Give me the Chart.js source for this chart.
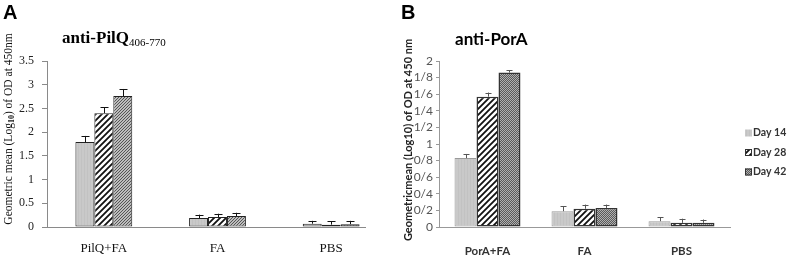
<!DOCTYPE html>
<html>
<head>
<meta charset="utf-8">
<script src="https://cdn.jsdelivr.net/npm/chart.js@4.4.0/dist/chart.umd.min.js"></script>
<style>
  body { margin: 0; background: #fff; overflow: hidden; }
  #wrapA { position: absolute; left: 0; top: 0; width: 395px; height: 257px; }
  #wrapB { position: absolute; left: 395px; top: 0; width: 392px; height: 257px; }
</style>
</head>
<body>
<div id="wrapA"><canvas id="chartA" width="395" height="257"></canvas></div>
<div id="wrapB"><canvas id="chartB" width="392" height="257"></canvas></div>
<script>
// Panel A data (anti-PilQ)
const groupsA = ['PilQ+FA', 'FA', 'PBS'];
const day14A = [1.79, 0.19, 0.07];
const day28A = [2.40, 0.21, 0.05];
const day42A = [2.76, 0.23, 0.06];
const err14A = [0.13, 0.07, 0.06];
const err28A = [0.12, 0.07, 0.07];
const err42A = [0.15, 0.07, 0.07];

// Panel B data (anti-PorA)
const groupsB = ['PorA+FA', 'FA', 'PBS'];
const day14B = [0.83, 0.19, 0.07];
const day28B = [1.57, 0.22, 0.05];
const day42B = [1.86, 0.23, 0.05];
const err14B = [0.05, 0.06, 0.05];
const err28B = [0.05, 0.05, 0.05];
const err42B = [0.03, 0.04, 0.04];

const seriesNames = ['Day 14', 'Day 28', 'Day 42'];

const SERIF = '"Liberation Serif", "Times New Roman", serif';
const SANS = 'Lato, "Liberation Sans", sans-serif';

// small pattern tiles
function makePattern(kind) {
    const c = document.createElement('canvas');
    const x = c.getContext('2d');
    if (kind === 'grey') {
        c.width = 3; c.height = 3;
        x.fillStyle = '#c9c9c9'; x.fillRect(0, 0, 3, 3);
        x.fillStyle = '#c2c2c2'; x.fillRect(0, 0, 1, 3);
    } else if (kind === 'stripe') {
        c.width = 6; c.height = 6;
        x.fillStyle = '#fff'; x.fillRect(0, 0, 6, 6);
        x.strokeStyle = '#111'; x.lineWidth = 1.8;
        x.beginPath();
        x.moveTo(-1, 7); x.lineTo(7, -1);
        x.moveTo(-4, 4); x.lineTo(4, -4);
        x.moveTo(2, 10); x.lineTo(10, 2);
        x.stroke();
    } else if (kind === 'fine') {
        c.width = 3; c.height = 3;
        x.fillStyle = '#bdbdbd'; x.fillRect(0, 0, 3, 3);
        x.fillStyle = '#555';
        x.fillRect(2, 0, 1, 1); x.fillRect(1, 1, 1, 1); x.fillRect(0, 2, 1, 1);
    } else if (kind === 'check') {
        c.width = 2; c.height = 2;
        x.fillStyle = '#b0b0b0'; x.fillRect(0, 0, 2, 2);
        x.fillStyle = '#5a5a5a'; x.fillRect(0, 0, 1, 1); x.fillRect(1, 1, 1, 1);
    }
    return x.createPattern(c, 'repeat');
}

// error bars drawn from the data via the scales
const errorBars = {
    id: 'errorBars',
    afterDatasetsDraw(chart, args, opts) {
        const ctx = chart.ctx;
        const ys = chart.scales.y;
        ctx.save();
        ctx.strokeStyle = opts.color;
        ctx.lineWidth = 1;
        chart.data.datasets.forEach((ds, i) => {
            const meta = chart.getDatasetMeta(i);
            meta.data.forEach((bar, j) => {
                const top = ys.getPixelForValue(ds.data[j] + ds.errors[j]);
                const x = Math.round(bar.x) + 0.5;
                ctx.beginPath();
                ctx.moveTo(x, bar.y);
                ctx.lineTo(x, top);
                ctx.moveTo(x - opts.cap, Math.round(top) + 0.5);
                ctx.lineTo(x + opts.cap, Math.round(top) + 0.5);
                ctx.stroke();
            });
        });
        ctx.restore();
    }
};

// texts: panel letter, title, rotated y title
const panelText = {
    id: 'panelText',
    afterDraw(chart, args, o) {
        const ctx = chart.ctx;
        ctx.save();
        ctx.fillStyle = '#000';
        ctx.font = 'bold 20px "Liberation Sans", Arial, sans-serif';
        ctx.textBaseline = 'alphabetic';
        ctx.fillText(o.letter, o.letterX, 19);

        // title with optional subscript
        ctx.font = o.titleFont;
        ctx.fillStyle = '#000';
        ctx.fillText(o.title, o.titleX, o.titleY);
        if (o.titleSub) {
            const w = ctx.measureText(o.title).width;
            ctx.font = o.titleSubFont;
            ctx.fillText(o.titleSub, o.titleX + w, o.titleY + 3);
        }

        // y title
        ctx.translate(o.yTitleX, o.yTitleY);
        ctx.rotate(-Math.PI / 2);
        ctx.fillStyle = o.yTitleColor;
        const parts = o.yParts;
        let total = 0;
        parts.forEach(p => { ctx.font = p.sub ? o.ySubFont : o.yFont; total += ctx.measureText(p.t).width; });
        let px = -total / 2;
        ctx.textBaseline = 'middle';
        parts.forEach(p => {
            ctx.font = p.sub ? o.ySubFont : o.yFont;
            ctx.fillText(p.t, px, p.sub ? 3 : 0);
            px += ctx.measureText(p.t).width;
        });
        ctx.restore();
    }
};

// shortened baseline for panel A
const baseLine = {
    id: 'baseLine',
    afterDatasetsDraw(chart, args, o) {
        if (!o.draw) return;
        const ctx = chart.ctx;
        const a = chart.chartArea;
        ctx.save();
        ctx.strokeStyle = '#8a8a8a';
        ctx.lineWidth = 1;
        ctx.beginPath();
        ctx.moveTo(a.left, a.bottom + 0.5);
        ctx.lineTo(a.right - o.short, a.bottom + 0.5);
        ctx.stroke();
        ctx.restore();
    }
};

// legend for panel B
const sideLegend = {
    id: 'sideLegend',
    afterDraw(chart, args, o) {
        if (!o.show) return;
        const ctx = chart.ctx;
        ctx.save();
        ctx.font = 'bold 10.5px ' + SANS;
        ctx.textBaseline = 'middle';
        chart.data.datasets.forEach((ds, i) => {
            const y = o.y0 + i * o.step;
            ctx.fillStyle = ds.backgroundColor;
            ctx.fillRect(o.x, y - 3.5, 7, 7);
            ctx.strokeStyle = ds.borderColor;
            ctx.lineWidth = 1;
            if (i > 0) ctx.strokeRect(o.x + 0.5, y - 3, 6, 6);
            ctx.fillStyle = '#333';
            ctx.fillText(ds.label, o.x + 8, y);
        });
        ctx.restore();
    }
};

Chart.register(errorBars, panelText, baseLine, sideLegend);

// Panel A
const ctxA = document.getElementById('chartA').getContext('2d');
const chartA = new Chart(ctxA, {
    type: 'bar',
    data: {
        labels: groupsA,
        datasets: [
            { label: seriesNames[0], data: day14A, errors: err14A, backgroundColor: makePattern('grey'), borderColor: '#222', borderWidth: 1, borderSkipped: false },
            { label: seriesNames[1], data: day28A, errors: err28A, backgroundColor: makePattern('stripe'), borderColor: '#222', borderWidth: 1, borderSkipped: false },
            { label: seriesNames[2], data: day42A, errors: err42A, backgroundColor: makePattern('fine'), borderColor: '#222', borderWidth: 1, borderSkipped: false }
        ]
    },
    options: {
        responsive: false,
        animation: false,
        layout: { padding: { left: 0, right: 7, top: 61, bottom: 0 } },
        datasets: { bar: { barPercentage: 1, categoryPercentage: 0.5 } },
        plugins: {
            legend: { display: false },
            tooltip: { enabled: false },
            errorBars: { color: '#111', cap: 4 },
            baseLine: { draw: true, short: 22 },
            sideLegend: { show: false },
            panelText: {
                letter: 'A', letterX: 3,
                title: 'anti-PilQ', titleX: 62, titleY: 43,
                titleFont: 'bold 17px ' + SERIF,
                titleSub: '406-770', titleSubFont: '11px ' + SERIF,
                yTitleX: 9, yTitleY: 129, yTitleColor: '#111',
                yFont: '11.5px ' + SERIF,
                ySubFont: 'bold 8px ' + SERIF,
                yParts: [{ t: 'Geometric mean (Log' }, { t: '10', sub: true }, { t: ') of OD at 450nm' }]
            }
        },
        scales: {
            x: {
                grid: { display: false },
                border: { display: false },
                ticks: { color: '#111', padding: 6, font: { family: SERIF, size: 13 } },
                afterFit: s => { s.height = 30; }
            },
            y: {
                min: 0, max: 3.5,
                ticks: {
                    stepSize: 0.5, color: '#222', padding: 8, autoSkip: false,
                    font: { family: SERIF, size: 12 },
                    callback: v => String(Math.round(v * 10) / 10)
                },
                grid: { drawOnChartArea: false, tickLength: 5, color: '#8a8a8a' },
                border: { color: '#8a8a8a' },
                afterFit: s => { s.width = 47; }
            }
        }
    }
});

// Panel B
const ctxB = document.getElementById('chartB').getContext('2d');
const chartB = new Chart(ctxB, {
    type: 'bar',
    data: {
        labels: groupsB,
        datasets: [
            { label: seriesNames[0], data: day14B, errors: err14B, backgroundColor: makePattern('grey'), borderColor: '#9a9a9a', borderWidth: 1, borderSkipped: false },
            { label: seriesNames[1], data: day28B, errors: err28B, backgroundColor: makePattern('stripe'), borderColor: '#333', borderWidth: 1.5, borderSkipped: false },
            { label: seriesNames[2], data: day42B, errors: err42B, backgroundColor: makePattern('check'), borderColor: '#333', borderWidth: 1.5, borderSkipped: false }
        ]
    },
    options: {
        responsive: false,
        animation: false,
        layout: { padding: { left: 0, right: 57, top: 61, bottom: 0 } },
        datasets: { bar: { barPercentage: 1, categoryPercentage: 0.68 } },
        plugins: {
            legend: { display: false },
            tooltip: { enabled: false },
            errorBars: { color: '#555', cap: 3 },
            baseLine: { draw: false },
            sideLegend: { show: true, x: 350, y0: 133, step: 19.5 },
            panelText: {
                letter: 'B', letterX: 6,
                title: 'anti-PorA', titleX: 60, titleY: 45,
                titleFont: 'bold 17px ' + SANS,
                yTitleX: 13, yTitleY: 140, yTitleColor: '#222',
                yFont: 'bold 11px ' + SANS,
                ySubFont: 'bold 11px ' + SANS,
                yParts: [{ t: 'Geometricmean (Log10) of OD at 450 nm' }]
            }
        },
        scales: {
            x: {
                grid: { display: false },
                border: { color: '#999' },
                ticks: { color: '#333', padding: 9, font: { family: SANS, size: 11.5, weight: 'bold' } },
                afterFit: s => { s.height = 30; }
            },
            y: {
                min: 0, max: 2,
                ticks: {
                    stepSize: 0.2, color: '#555', padding: 3, autoSkip: false,
                    font: { family: SANS, size: 12 },
                    callback: v => {
                        const s = (Math.round(v * 10) / 10).toFixed(1);
                        return s.endsWith('.0') ? s.slice(0, -2) : s.replace('.', '/');
                    }
                },
                grid: { drawOnChartArea: false, tickLength: 3, color: '#999' },
                border: { color: '#999' },
                afterFit: s => { s.width = 44; }
            }
        }
    }
});
</script>
</body>
</html>
